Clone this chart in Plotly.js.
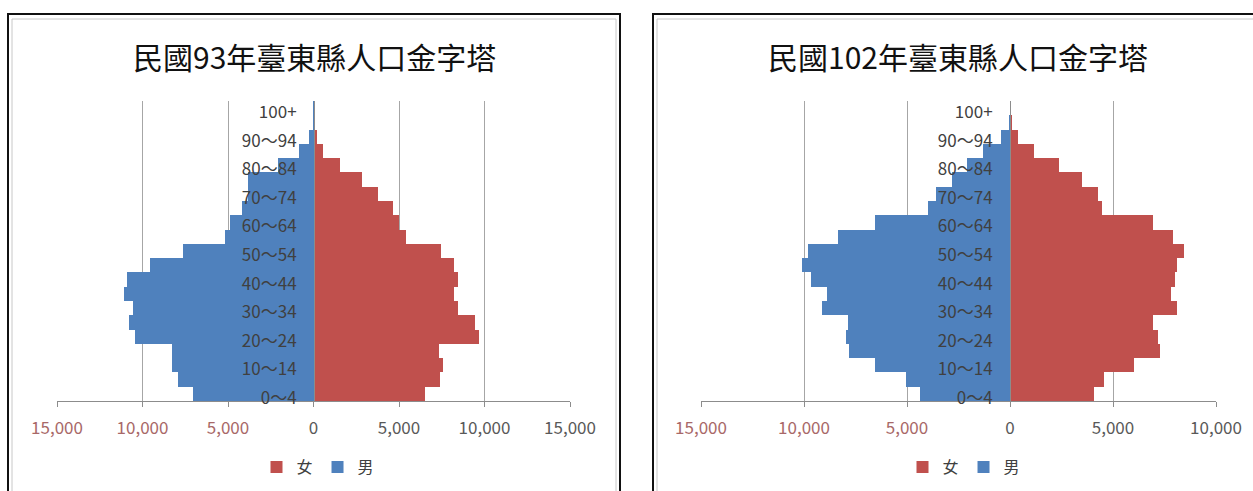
<!DOCTYPE html>
<html>
<head>
<meta charset="utf-8">
<script src="https://cdn.plot.ly/plotly-3.0.1.min.js"></script>
<style>
html,body{margin:0;padding:0;background:#fff;}
#chart{width:1253px;height:491px;}
</style>
</head>
<body>
<div id="chart"></div>
<script>
// Age groups (bottom to top)
const ageGroups = ["0～4","5～9","10～14","15～19","20～24","25～29","30～34","35～39","40～44","45～49",
  "50～54","55～59","60～64","65～69","70～74","75～79","80～84","85～89","90～94","95～99","100+"];
// Labelled age groups (every other one)
const ageTickLabels = ["0～4","10～14","20～24","30～34","40～44","50～54","60～64","70～74","80～84","90～94","100+"];

// 民國93年
const male93   = [7045, 7920, 8270, 8270, 10450, 10800, 10550, 11090, 10900, 9575, 7630, 5160, 4865, 4180, 3830, 3830, 2100, 820, 235, 40, 10];
const female93 = [6520, 7395, 7550, 7355, 9690, 9440, 8465, 8210, 8465, 8210, 7430, 5410, 5020, 4630, 3795, 2822, 1557, 545, 233, 60, 15];
// 民國102年
const male102   = [4370, 5050, 6555, 7815, 7980, 7880, 9110, 8870, 9660, 10110, 9790, 8365, 6555, 4000, 3590, 2800, 2100, 1330, 437, 60, 10];
const female102 = [4095, 4580, 6035, 7280, 7200, 6960, 8090, 7800, 8010, 8090, 8460, 7900, 6960, 4450, 4255, 3480, 2380, 1180, 405, 90, 20];

const titles = ["民國93年臺東縣人口金字塔", "民國102年臺東縣人口金字塔"];
const seriesNames = ["女", "男"];
const xTicks1 = [-15000, -10000, -5000, 0, 5000, 10000, 15000];
const xTicks2 = [-15000, -10000, -5000, 0, 5000, 10000];
const xTickText1 = ["15,000","10,000","5,000","0","5,000","10,000","15,000"];
const xTickText2 = ["15,000","10,000","5,000","0","5,000","10,000"];

const RED = "#c0504d", BLUE = "#4f81bd";
const NEG = "#a86868", POS = "#595959";
const FONT = "Noto Sans CJK TC, Noto Sans, sans-serif";
const W = 1253, H = 491;
const px = x => x / W;
const py = y => 1 - y / H;

function colorTicks(vals, texts){
  return texts.map((t,i) => vals[i] < 0 ? '<span style="color:' + NEG + '">' + t + '</span>' : t);
}

const data = [
  {type:"bar", orientation:"h", y:ageGroups, x:female93, name:seriesNames[0], marker:{color:RED}, xaxis:"x", yaxis:"y", legend:"legend"},
  {type:"bar", orientation:"h", y:ageGroups, x:male93.map(v=>-v), name:seriesNames[1], marker:{color:BLUE}, xaxis:"x", yaxis:"y", legend:"legend"},
  {type:"bar", orientation:"h", y:ageGroups, x:female102, name:seriesNames[0], marker:{color:RED}, xaxis:"x2", yaxis:"y2", legend:"legend2"},
  {type:"bar", orientation:"h", y:ageGroups, x:male102.map(v=>-v), name:seriesNames[1], marker:{color:BLUE}, xaxis:"x2", yaxis:"y2", legend:"legend2"}
];

const yDomain = [py(401), py(101)];
const xAxisCommon = {
  showgrid:true, gridcolor:"#a6a6a6", gridwidth:1,
  zeroline:false, showline:true, linecolor:"#8c8c8c", linewidth:1,
  ticks:"outside", ticklen:5, tickcolor:"#8c8c8c",
  tickfont:{family:FONT, size:17, color:POS}, ticklabelstandoff:7,
  tickmode:"array", fixedrange:true
};
const yAxisCommon = {
  type:"category", range:[-0.5, 20.5], domain:yDomain, anchor:"free",
  showgrid:false, zeroline:false, showline:true, linecolor:"#8c8c8c", linewidth:1,
  ticks:"", tickmode:"array", tickvals:ageTickLabels, ticktext:ageTickLabels,
  tickfont:{family:FONT, size:17, color:"#404040"}, ticklabelstandoff:14, ticklabelshift:4,
  fixedrange:true
};

const layout = {
  width:W, height:H, autosize:false,
  margin:{l:0,r:0,t:0,b:0},
  paper_bgcolor:"#ffffff", plot_bgcolor:"rgba(0,0,0,0)",
  barmode:"relative", bargap:0,
  font:{family:FONT},
  xaxis:Object.assign({}, xAxisCommon, {domain:[px(57), px(570)], range:[-15000,15000], anchor:"y",
    tickvals:xTicks1, ticktext:colorTicks(xTicks1, xTickText1)}),
  yaxis:Object.assign({}, yAxisCommon, {position:px(314)}),
  xaxis2:Object.assign({}, xAxisCommon, {domain:[px(701), px(1216)], range:[-15000,10000], anchor:"y2",
    tickvals:xTicks2, ticktext:colorTicks(xTicks2, xTickText2)}),
  yaxis2:Object.assign({}, yAxisCommon, {position:px(1010)}),
  legend:{orientation:"h", x:px(318), xanchor:"center", y:py(467), yanchor:"middle",
    font:{family:FONT, size:16, color:"#404040"}, itemwidth:30, bgcolor:"rgba(0,0,0,0)"},
  legend2:{orientation:"h", x:px(964), xanchor:"center", y:py(467), yanchor:"middle",
    font:{family:FONT, size:16, color:"#404040"}, itemwidth:30, bgcolor:"rgba(0,0,0,0)"},
  annotations:[
    {text:titles[0], xref:"paper", yref:"paper", x:px(314), y:py(56), xanchor:"center", yanchor:"middle",
     showarrow:false, font:{family:FONT, size:30, color:"#111111"}},
    {text:titles[1], xref:"paper", yref:"paper", x:px(958), y:py(56), xanchor:"center", yanchor:"middle",
     showarrow:false, font:{family:FONT, size:30, color:"#111111"}}
  ],
  shapes:[
    {type:"rect", xref:"paper", yref:"paper", x0:px(8), x1:px(620), y0:py(500), y1:py(14), line:{color:"#111111", width:2}},
    {type:"rect", xref:"paper", yref:"paper", x0:px(12), x1:px(616), y0:py(500), y1:py(19), line:{color:"#c8c8c8", width:1}},
    {type:"rect", xref:"paper", yref:"paper", x0:px(653), x1:px(1270), y0:py(500), y1:py(14), line:{color:"#111111", width:2}},
    {type:"rect", xref:"paper", yref:"paper", x0:px(657), x1:px(1266), y0:py(500), y1:py(19), line:{color:"#c8c8c8", width:1}}
  ]
};

Plotly.newPlot("chart", data, layout, {staticPlot:true, displayModeBar:false});
</script>
</body>
</html>
